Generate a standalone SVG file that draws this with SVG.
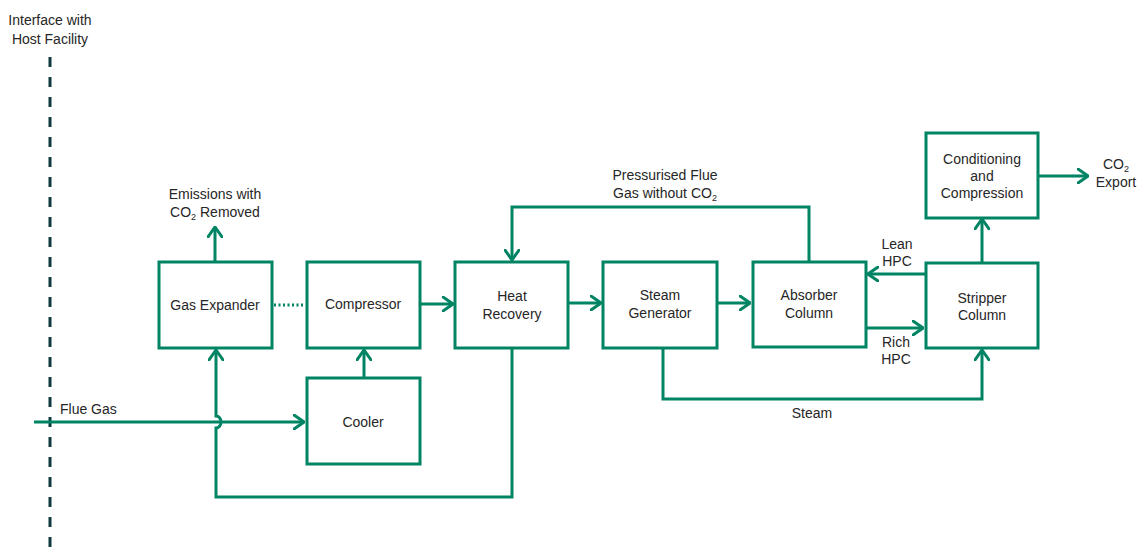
<svg xmlns="http://www.w3.org/2000/svg" width="1137" height="547" viewBox="0 0 1137 547">
  <defs>
    <marker id="arr" viewBox="0 0 12 16" refX="11" refY="8" markerWidth="12" markerHeight="16" markerUnits="userSpaceOnUse" orient="auto">
      <path d="M1,1 L11,8 L1,15" fill="none" stroke="#008463" stroke-width="3" stroke-linecap="round" stroke-linejoin="miter"/>
    </marker>
    <style>
      .box { fill: #ffffff; stroke: #008463; stroke-width: 3; }
      .flow { fill: none; stroke: #008463; stroke-width: 3; stroke-linejoin: miter; }
      .arrow { marker-end: url(#arr); }
      .dot { fill: none; stroke: #008463; stroke-width: 3; stroke-dasharray: 2 2.5; }
      .boundary { fill: none; stroke: #0e3a40; stroke-width: 3; stroke-dasharray: 10 10; }
      text { font-family: "Liberation Sans", Arial, sans-serif; font-size: 14px; fill: #262626; }
      .c { text-anchor: middle; }
      .sub { font-size: 9px; }
    </style>
  </defs>

  <rect width="1137" height="547" fill="#ffffff"/>

  <!-- host facility boundary -->
  <g id="boundary">
    <text class="c" x="50" y="25">Interface with</text>
    <text class="c" x="50" y="44">Host Facility</text>
    <line class="boundary" x1="50" y1="57" x2="50" y2="547"/>
  </g>

  <!-- connectors -->
  <g id="connectors">
    <!-- flue gas in to cooler -->
    <line class="flow arrow" x1="34" y1="422" x2="304" y2="422"/>
    <!-- cooler to compressor -->
    <line class="flow arrow" x1="364" y1="378" x2="364" y2="350"/>
    <!-- gas expander exhaust -->
    <line class="flow arrow" x1="215" y1="262" x2="215" y2="227"/>
    <!-- shaft link expander/compressor -->
    <line class="dot" x1="274" y1="305" x2="305" y2="305"/>
    <!-- main gas train -->
    <line class="flow arrow" x1="421" y1="304" x2="453" y2="304"/>
    <line class="flow arrow" x1="569" y1="303" x2="601" y2="303"/>
    <line class="flow arrow" x1="717" y1="303" x2="750" y2="303"/>
    <!-- heat recovery return to expander, hopping over flue gas line -->
    <path class="flow arrow" d="M512,348 V497 H216 V428 A5,6 0 0 0 216,416 V350"/>
    <!-- treated gas back to heat recovery -->
    <path class="flow arrow" d="M809,262 V207 H512 V260"/>
    <!-- steam to stripper -->
    <path class="flow arrow" d="M663,348 V399 H982 V350"/>
    <!-- lean / rich solvent -->
    <line class="flow arrow" x1="925" y1="274" x2="868" y2="274"/>
    <line class="flow arrow" x1="866" y1="328" x2="923" y2="328"/>
    <!-- stripper to conditioning -->
    <line class="flow arrow" x1="982" y1="262" x2="982" y2="219"/>
    <!-- export -->
    <line class="flow arrow" x1="1038" y1="176" x2="1088" y2="176"/>

    <text x="60" y="414">Flue Gas</text>
    <text class="c" x="215" y="199">Emissions with</text>
    <text class="c" x="215" y="217">CO<tspan class="sub" dy="3">2</tspan><tspan dy="-3"> Removed</tspan></text>
    <text class="c" x="665" y="180">Pressurised Flue</text>
    <text class="c" x="665" y="198">Gas without CO<tspan class="sub" dy="3">2</tspan></text>
    <text class="c" x="812" y="418">Steam</text>
    <text class="c" x="897" y="249">Lean</text>
    <text class="c" x="897" y="266">HPC</text>
    <text class="c" x="896" y="347">Rich</text>
    <text class="c" x="896" y="364">HPC</text>
    <text class="c" x="1116" y="169">CO<tspan class="sub" dy="3">2</tspan></text>
    <text class="c" x="1116" y="187">Export</text>
  </g>

  <!-- process units -->
  <g id="gas-expander">
    <rect class="box" x="159" y="262" width="113" height="86"/>
    <text class="c" x="215" y="310">Gas Expander</text>
  </g>
  <g id="compressor">
    <rect class="box" x="307" y="262" width="113" height="86"/>
    <text class="c" x="363" y="309">Compressor</text>
  </g>
  <g id="cooler">
    <rect class="box" x="307" y="378" width="113" height="86"/>
    <text class="c" x="363" y="427">Cooler</text>
  </g>
  <g id="heat-recovery">
    <rect class="box" x="455" y="262" width="113" height="86"/>
    <text class="c" x="512" y="301">Heat</text>
    <text class="c" x="512" y="319">Recovery</text>
  </g>
  <g id="steam-generator">
    <rect class="box" x="603" y="262" width="114" height="86"/>
    <text class="c" x="660" y="300">Steam</text>
    <text class="c" x="660" y="318">Generator</text>
  </g>
  <g id="absorber-column">
    <rect class="box" x="753" y="262" width="113" height="85"/>
    <text class="c" x="809" y="300">Absorber</text>
    <text class="c" x="809" y="318">Column</text>
  </g>
  <g id="stripper-column">
    <rect class="box" x="926" y="263" width="112" height="85"/>
    <text class="c" x="982" y="303">Stripper</text>
    <text class="c" x="982" y="320">Column</text>
  </g>
  <g id="conditioning-compression">
    <rect class="box" x="926" y="133" width="112" height="85"/>
    <text class="c" x="982" y="164">Conditioning</text>
    <text class="c" x="982" y="181">and</text>
    <text class="c" x="982" y="198">Compression</text>
  </g>
</svg>
